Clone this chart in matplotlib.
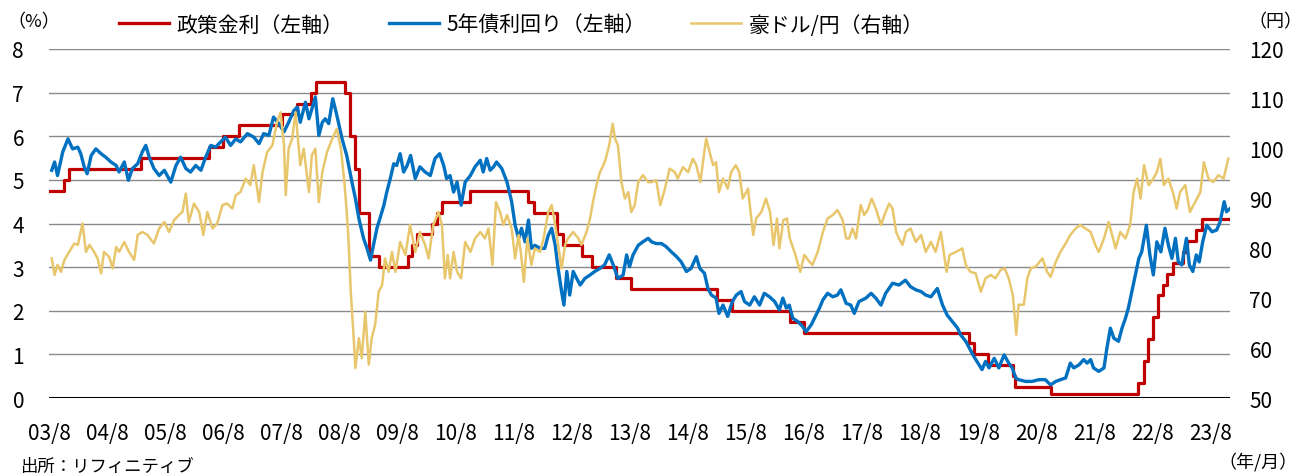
import matplotlib.pyplot as plt
from matplotlib.lines import Line2D

plt.rcParams['font.family'] = ['Noto Sans CJK JP', 'DejaVu Sans']


def to_year(s):
    y, m, d = map(int, s.split('-'))
    return y + (m - 1) / 12 + (d - 1) / 365


# RBA cash rate (policy rate), % - change dates
policy_dates = ['2003-08-01', '2003-11-05', '2003-12-03', '2005-03-02', '2006-05-03',
                '2006-08-02', '2006-11-08', '2007-08-08', '2007-11-07', '2008-02-06',
                '2008-03-05', '2008-09-03', '2008-10-08', '2008-11-05', '2008-12-03',
                '2009-02-04', '2009-04-08', '2009-10-07', '2009-11-04', '2009-12-02',
                '2010-03-03', '2010-04-07', '2010-05-05', '2010-11-03', '2011-11-02',
                '2011-12-07', '2012-05-02', '2012-06-06', '2012-10-03', '2012-12-05',
                '2013-05-08', '2013-08-07', '2015-02-04', '2015-05-06', '2016-05-04',
                '2016-08-03', '2019-06-05', '2019-07-03', '2019-10-02', '2020-03-04',
                '2020-03-20', '2020-11-04', '2022-05-04', '2022-06-08', '2022-07-06',
                '2022-08-03', '2022-09-07', '2022-10-05', '2022-11-02', '2022-12-07',
                '2023-02-08', '2023-03-08', '2023-05-03', '2023-06-07', '2023-12-01']
policy_rates = [4.75, 5.00, 5.25, 5.50, 5.75, 6.00, 6.25, 6.50, 6.75, 7.00,
                7.25, 7.00, 6.00, 5.25, 4.25, 3.25, 3.00, 3.25, 3.50, 3.75,
                4.00, 4.25, 4.50, 4.75, 4.50, 4.25, 3.75, 3.50, 3.25, 3.00,
                2.75, 2.50, 2.25, 2.00, 1.75, 1.50, 1.25, 1.00, 0.75, 0.50,
                0.25, 0.10, 0.35, 0.85, 1.35, 1.85, 2.35, 2.60, 2.85, 3.10,
                3.35, 3.60, 3.85, 4.10, 4.10]

# 5-year government bond yield, %
bond_t = [2003.63, 2003.68, 2003.73, 2003.82, 2003.91, 2003.99, 2004.08, 2004.13, 2004.19, 2004.24,
          2004.31, 2004.39, 2004.48, 2004.56, 2004.65, 2004.74, 2004.79, 2004.88, 2004.95, 2005.02,
          2005.11, 2005.19, 2005.25, 2005.31, 2005.39, 2005.48, 2005.57, 2005.68, 2005.77, 2005.85,
          2005.94, 2006.02, 2006.11, 2006.20, 2006.28, 2006.37, 2006.45, 2006.54, 2006.62, 2006.71,
          2006.80, 2006.88, 2007.00, 2007.11, 2007.20, 2007.28, 2007.37, 2007.45, 2007.54, 2007.63,
          2007.71, 2007.80, 2007.86, 2007.91, 2008.00, 2008.06, 2008.11, 2008.17, 2008.23, 2008.29,
          2008.34, 2008.40, 2008.47, 2008.54, 2008.63, 2008.71, 2008.80, 2008.86, 2008.92, 2009.00,
          2009.06, 2009.12, 2009.17, 2009.23, 2009.29, 2009.35, 2009.40, 2009.46, 2009.52, 2009.57,
          2009.63, 2009.69, 2009.75, 2009.81, 2009.89, 2009.97, 2010.06, 2010.15, 2010.23, 2010.31,
          2010.38, 2010.43, 2010.49, 2010.55, 2010.61, 2010.68, 2010.75, 2010.84, 2010.92, 2011.01,
          2011.06, 2011.12, 2011.18, 2011.24, 2011.29, 2011.38, 2011.47, 2011.55, 2011.61, 2011.67,
          2011.72, 2011.78, 2011.84, 2011.89, 2011.95, 2012.04, 2012.12, 2012.18, 2012.24, 2012.30,
          2012.35, 2012.41, 2012.45, 2012.50, 2012.55, 2012.61, 2012.67, 2012.73, 2012.81, 2012.90,
          2012.98, 2013.07, 2013.15, 2013.23, 2013.30, 2013.38, 2013.47, 2013.53, 2013.58, 2013.64,
          2013.73, 2013.81, 2013.90, 2013.96, 2014.04, 2014.13, 2014.21, 2014.30, 2014.39, 2014.47,
          2014.56, 2014.64, 2014.73, 2014.79, 2014.87, 2014.93, 2014.99, 2015.07, 2015.12, 2015.19,
          2015.27, 2015.35, 2015.42, 2015.50, 2015.56, 2015.65, 2015.73, 2015.82, 2015.90, 2015.99,
          2016.08, 2016.16, 2016.22, 2016.28, 2016.33, 2016.39, 2016.48, 2016.56, 2016.62, 2016.71,
          2016.79, 2016.85, 2016.91, 2016.99, 2017.08, 2017.16, 2017.22, 2017.31, 2017.39, 2017.45,
          2017.53, 2017.65, 2017.74, 2017.82, 2017.91, 2017.99, 2018.11, 2018.22, 2018.33, 2018.42,
          2018.51, 2018.60, 2018.68, 2018.77, 2018.88, 2018.97, 2019.05, 2019.14, 2019.23, 2019.28,
          2019.37, 2019.45, 2019.51, 2019.60, 2019.65, 2019.71, 2019.77, 2019.86, 2019.94, 2020.03,
          2020.11, 2020.17, 2020.23, 2020.28, 2020.40, 2020.51, 2020.63, 2020.74, 2020.83, 2020.92,
          2021.00, 2021.09, 2021.17, 2021.23, 2021.32, 2021.40, 2021.46, 2021.52, 2021.57, 2021.66,
          2021.75, 2021.80, 2021.86, 2021.92, 2022.00, 2022.06, 2022.12, 2022.17, 2022.23, 2022.29,
          2022.35, 2022.40, 2022.48, 2022.54, 2022.60, 2022.66, 2022.73, 2022.80, 2022.86, 2022.92,
          2022.98, 2023.03, 2023.09, 2023.17, 2023.22, 2023.28, 2023.34, 2023.39, 2023.45, 2023.52,
          2023.61, 2023.69, 2023.75, 2023.82, 2023.86, 2023.92]
bond_yield = [5.22, 5.41, 5.10, 5.64, 5.94, 5.71, 5.75, 5.60, 5.30, 5.14,
              5.56, 5.71, 5.60, 5.52, 5.41, 5.33, 5.18, 5.41, 4.99, 5.26,
              5.37, 5.64, 5.79, 5.52, 5.26, 5.10, 5.22, 4.95, 5.33, 5.52,
              5.26, 5.18, 5.33, 5.22, 5.52, 5.79, 5.75, 5.87, 5.98, 5.79,
              5.94, 5.87, 6.06, 5.98, 5.83, 6.06, 6.02, 6.44, 6.29, 6.10,
              6.32, 6.59, 6.67, 6.32, 6.78, 6.40, 6.63, 6.90, 6.02, 6.32,
              6.40, 6.29, 6.86, 6.48, 5.94, 5.56, 4.95, 4.57, 4.11, 3.66,
              3.43, 3.16, 3.50, 3.89, 4.15, 4.42, 4.72, 5.03, 5.37, 5.33,
              5.60, 5.18, 5.33, 5.56, 5.03, 5.30, 5.18, 5.10, 5.49, 5.60,
              5.33, 5.03, 5.10, 4.72, 4.95, 4.42, 4.95, 5.10, 5.30, 5.45,
              5.18, 5.49, 5.22, 5.30, 5.41, 5.26, 4.95, 4.50, 3.96, 3.66,
              3.89, 3.58, 4.08, 3.43, 3.50, 3.43, 3.43, 3.73, 3.89, 3.50,
              2.97, 2.44, 2.13, 2.90, 2.36, 2.90, 2.74, 2.59, 2.74, 2.82,
              2.90, 2.97, 3.05, 3.28, 3.05, 2.74, 2.82, 3.28, 3.01, 3.28,
              3.50, 3.58, 3.66, 3.58, 3.54, 3.54, 3.47, 3.35, 3.24, 3.12,
              2.90, 2.97, 3.24, 2.97, 2.86, 2.51, 2.36, 2.29, 1.94, 2.13,
              1.87, 2.21, 2.36, 2.44, 2.21, 2.13, 2.32, 2.13, 2.40, 2.32,
              2.21, 2.02, 2.29, 2.06, 2.13, 1.83, 1.75, 1.64, 1.52, 1.68,
              1.90, 2.06, 2.25, 2.40, 2.32, 2.36, 2.48, 2.17, 2.13, 1.94,
              2.21, 2.29, 2.40, 2.29, 2.13, 2.40, 2.63, 2.59, 2.70, 2.55,
              2.48, 2.44, 2.36, 2.32, 2.51, 2.13, 1.90, 1.75, 1.60, 1.45,
              1.30, 1.10, 0.95, 0.76, 0.65, 0.84, 0.69, 0.91, 0.69, 0.99,
              0.80, 0.69, 0.46, 0.42, 0.38, 0.38, 0.42, 0.42, 0.30, 0.38,
              0.42, 0.46, 0.80, 0.69, 0.76, 0.88, 0.80, 0.88, 0.69, 0.61,
              0.69, 1.14, 1.60, 1.37, 1.30, 1.60, 1.83, 2.06, 2.44, 2.82,
              3.20, 3.35, 3.96, 3.28, 2.82, 3.58, 3.35, 3.89, 3.50, 3.20,
              3.66, 3.12, 3.05, 3.66, 3.05, 2.90, 3.28, 3.12, 3.58, 3.96,
              3.81, 3.85, 4.04, 4.50, 4.27, 4.34]

# AUD/JPY, yen
fx_t = [2003.63, 2003.68, 2003.73, 2003.79, 2003.85, 2003.93, 2004.02, 2004.08, 2004.16, 2004.22,
        2004.28, 2004.36, 2004.42, 2004.48, 2004.53, 2004.62, 2004.68, 2004.74, 2004.79, 2004.88,
        2004.96, 2005.05, 2005.11, 2005.19, 2005.28, 2005.39, 2005.48, 2005.57, 2005.65, 2005.74,
        2005.82, 2005.88, 2005.94, 2005.99, 2006.08, 2006.17, 2006.24, 2006.31, 2006.40, 2006.48,
        2006.57, 2006.65, 2006.74, 2006.80, 2006.88, 2006.97, 2007.05, 2007.11, 2007.20, 2007.26,
        2007.34, 2007.43, 2007.51, 2007.57, 2007.63, 2007.66, 2007.71, 2007.77, 2007.83, 2007.87,
        2007.91, 2007.97, 2008.06, 2008.11, 2008.17, 2008.23, 2008.29, 2008.37, 2008.46, 2008.54,
        2008.61, 2008.67, 2008.71, 2008.74, 2008.78, 2008.83, 2008.86, 2008.92, 2008.97, 2009.03,
        2009.09, 2009.14, 2009.20, 2009.26, 2009.32, 2009.37, 2009.43, 2009.49, 2009.55, 2009.63,
        2009.72, 2009.80, 2009.89, 2009.97, 2010.06, 2010.12, 2010.20, 2010.29, 2010.35, 2010.40,
        2010.45, 2010.49, 2010.55, 2010.61, 2010.68, 2010.75, 2010.84, 2010.92, 2011.01, 2011.09,
        2011.15, 2011.22, 2011.28, 2011.35, 2011.41, 2011.47, 2011.55, 2011.61, 2011.67, 2011.72,
        2011.76, 2011.82, 2011.89, 2011.95, 2012.04, 2012.10, 2012.18, 2012.24, 2012.30, 2012.35,
        2012.41, 2012.47, 2012.52, 2012.61, 2012.70, 2012.75, 2012.84, 2012.90, 2012.95, 2013.01,
        2013.07, 2013.13, 2013.17, 2013.23, 2013.29, 2013.33, 2013.38, 2013.44, 2013.50, 2013.56,
        2013.61, 2013.67, 2013.73, 2013.81, 2013.90, 2013.96, 2014.04, 2014.11, 2014.19, 2014.27,
        2014.36, 2014.41, 2014.50, 2014.59, 2014.67, 2014.73, 2014.80, 2014.86, 2014.90, 2014.96,
        2015.02, 2015.07, 2015.12, 2015.19, 2015.27, 2015.33, 2015.41, 2015.47, 2015.53, 2015.62,
        2015.67, 2015.71, 2015.76, 2015.85, 2015.93, 2016.00, 2016.06, 2016.12, 2016.16, 2016.23,
        2016.29, 2016.34, 2016.42, 2016.52, 2016.59, 2016.68, 2016.73, 2016.82, 2016.91, 2016.99,
        2017.08, 2017.16, 2017.25, 2017.31, 2017.36, 2017.42, 2017.48, 2017.56, 2017.62, 2017.68,
        2017.75, 2017.82, 2017.91, 2017.97, 2018.05, 2018.11, 2018.17, 2018.22, 2018.28, 2018.34,
        2018.42, 2018.51, 2018.60, 2018.68, 2018.77, 2018.85, 2018.94, 2018.99, 2019.04, 2019.09,
        2019.20, 2019.31, 2019.37, 2019.45, 2019.54, 2019.63, 2019.71, 2019.80, 2019.88, 2019.97,
        2020.04, 2020.11, 2020.18, 2020.24, 2020.28, 2020.37, 2020.43, 2020.49, 2020.57, 2020.69,
        2020.77, 2020.83, 2020.92, 2021.00, 2021.09, 2021.17, 2021.26, 2021.34, 2021.43, 2021.52,
        2021.60, 2021.66, 2021.75, 2021.83, 2021.89, 2021.95, 2022.03, 2022.12, 2022.20, 2022.26,
        2022.32, 2022.38, 2022.44, 2022.52, 2022.60, 2022.66, 2022.72, 2022.78, 2022.86, 2022.95,
        2023.00, 2023.06, 2023.15, 2023.23, 2023.32, 2023.41, 2023.47, 2023.55, 2023.63, 2023.72,
        2023.81, 2023.89]
audjpy = [78.0, 74.7, 76.7, 75.3, 77.7, 79.3, 81.0, 80.7, 85.0, 79.3,
          80.7, 79.3, 78.0, 75.0, 79.3, 78.3, 76.0, 80.3, 79.3, 81.3,
          79.3, 77.7, 82.7, 83.3, 82.7, 81.0, 84.0, 85.3, 83.3, 85.7,
          86.7, 87.3, 91.0, 85.3, 89.0, 87.3, 82.7, 87.3, 84.0, 85.0,
          88.7, 89.0, 88.0, 90.7, 91.3, 94.0, 92.7, 96.7, 89.3, 95.3,
          99.3, 100.7, 105.3, 107.3, 100.7, 90.7, 100.0, 102.0, 107.3, 102.0,
          96.7, 100.0, 91.3, 98.7, 100.0, 89.3, 95.3, 99.3, 102.0, 104.0,
          100.0, 93.3, 87.3, 82.0, 71.3, 62.0, 56.0, 62.0, 58.0, 67.3,
          56.7, 62.0, 64.7, 71.3, 72.7, 78.0, 75.3, 79.3, 75.3, 81.3,
          78.7, 84.7, 79.3, 83.3, 80.7, 78.0, 84.7, 87.3, 84.7, 74.0,
          78.7, 74.0, 79.3, 75.3, 74.0, 81.3, 79.3, 82.0, 83.3, 82.0,
          84.0, 76.7, 89.3, 87.3, 84.7, 86.7, 84.0, 78.0, 82.7, 78.0,
          73.3, 82.0, 76.7, 80.0, 79.3, 82.0, 87.3, 88.7, 84.7, 80.7,
          76.0, 80.7, 82.0, 83.3, 82.0, 80.7, 83.3, 86.0, 89.3, 92.7,
          95.3, 96.7, 98.0, 100.7, 105.0, 102.0, 100.7, 93.3, 90.0, 91.3,
          87.3, 88.7, 93.3, 94.7, 93.3, 93.3, 93.7, 88.7, 92.0, 96.0,
          95.3, 94.0, 96.3, 95.3, 98.0, 96.7, 93.3, 98.7, 102.0, 99.3,
          96.7, 97.3, 91.3, 94.0, 92.0, 95.3, 96.7, 95.3, 90.0, 92.0,
          86.7, 82.7, 86.0, 87.3, 90.0, 87.3, 80.7, 86.0, 80.0, 85.7,
          86.0, 82.0, 79.3, 75.3, 78.7, 77.3, 76.7, 79.3, 83.3, 86.0,
          86.7, 87.7, 85.7, 82.0, 82.0, 84.0, 82.0, 88.7, 86.7, 87.7,
          90.0, 88.0, 84.7, 86.7, 89.0, 88.0, 83.3, 82.0, 80.7, 83.3,
          84.0, 81.3, 82.7, 79.3, 81.3, 79.3, 83.3, 79.3, 75.3, 78.7,
          79.3, 80.0, 76.7, 75.3, 75.0, 71.3, 74.0, 74.7, 74.0, 75.7,
          76.0, 74.0, 70.7, 62.7, 68.7, 68.7, 74.0, 76.0, 76.3, 78.0,
          75.3, 74.3, 77.3, 79.3, 81.0, 82.7, 84.0, 84.7, 84.0, 83.3,
          80.7, 79.3, 82.0, 85.3, 82.7, 80.0, 83.3, 82.0, 84.7, 91.3,
          94.0, 90.0, 96.7, 92.7, 94.0, 95.3, 98.0, 92.7, 94.0, 90.7,
          88.0, 91.3, 92.7, 87.3, 89.3, 91.3, 97.3, 94.0, 93.3, 94.7,
          94.0, 98.0]

tick_years = list(range(2003, 2024))
tick_labels = [f"{y % 100:02d}/8" for y in tick_years]

series_names = ['政策金利（左軸）', '5年債利回り（左軸）', '豪ドル/円（右軸）']
colors = ['#C00000', '#0070C0', '#E8C66C']

W, H = 1304, 477
fig = plt.figure(figsize=(W / 100, H / 100), dpi=100)
ax = fig.add_axes([49 / W, 1 - 399 / H, 1181 / W, 349 / H])
ax2 = ax.twinx()

# left axis series
ax.step([to_year(d) for d in policy_dates], policy_rates, where='post',
        color=colors[0], lw=2.3)
ax.plot(bond_t, bond_yield, color=colors[1], lw=2.4)
# right axis series (drawn on top)
ax2.plot(fx_t, audjpy, color=colors[2], lw=1.8)

ax.set_xlim(2003.63, 2023.92)
ax.set_ylim(0, 8)
ax2.set_ylim(50, 120)
ax.set_yticks(range(0, 9))
ax2.set_yticks(range(50, 121, 10))
ax.set_xticks([y + 7 / 12 for y in tick_years])
ax.set_xticklabels(tick_labels)

ax.yaxis.grid(True, color='#8a8a8a', lw=1)
ax.set_axisbelow(True)
for a in (ax, ax2):
    for side in ('left', 'right', 'top', 'bottom'):
        a.spines[side].set_visible(False)
ax.axhline(0, color='black', lw=2.2, zorder=5)

ax.tick_params(axis='both', length=0, labelsize=15)
ax.tick_params(axis='y', pad=18)
ax.tick_params(axis='x', pad=17)
ax2.tick_params(axis='y', length=0, labelsize=15, pad=14)

# legend
handles = [Line2D([], [], color=c, lw=2.4 if i < 2 else 1.8) for i, c in enumerate(colors)]
fig.legend(handles, series_names, loc='upper left', bbox_to_anchor=(104 / W, 1.0),
           ncol=3, frameon=False, fontsize=15, handlelength=2.4, handletextpad=0.35,
           columnspacing=2.2, borderpad=0.2)

fig.text(7 / W, 1 - 22 / H, '（%）', fontsize=13, va='center', ha='left')
fig.text(1248 / W, 1 - 22 / H, '（円）', fontsize=13, va='center', ha='left')
fig.text(1298 / W, 1 - 462 / H, '（年/月）', fontsize=13, va='center', ha='right')
fig.text(20 / W, 1 - 467 / H, '出所：リフィニティブ', fontsize=12.5, va='center', ha='left')

fig.savefig('out.png', dpi=100)
